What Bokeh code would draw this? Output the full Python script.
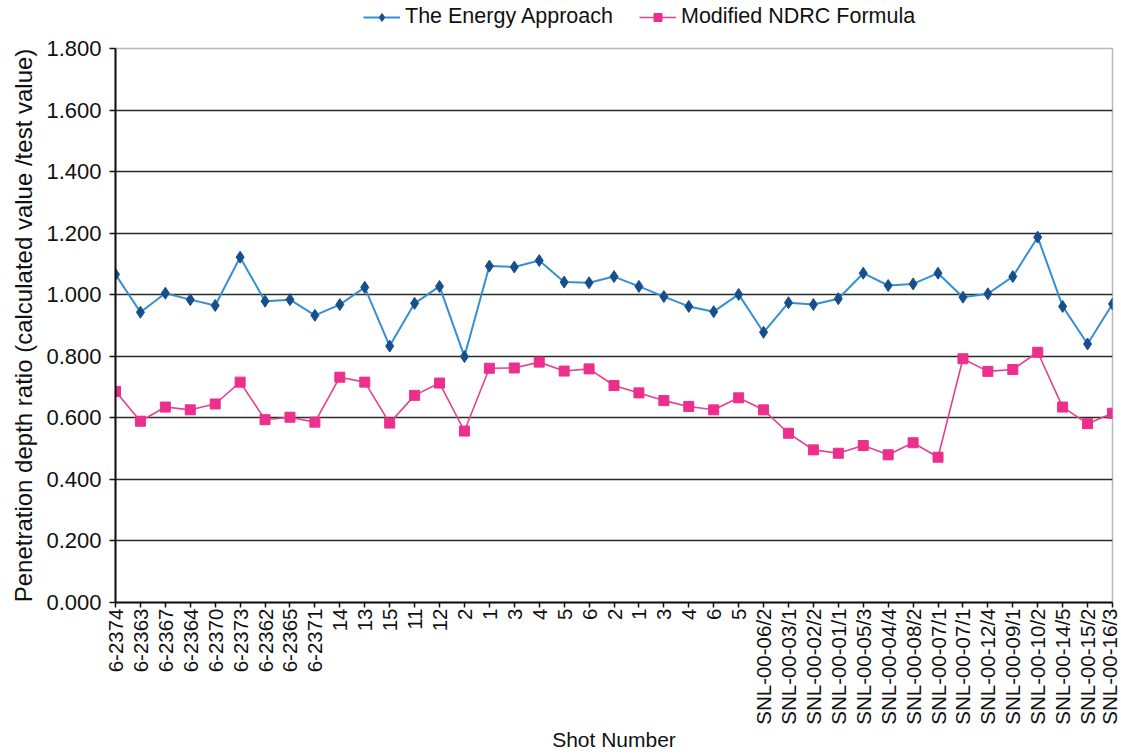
import math
from bokeh.plotting import figure
from bokeh.layouts import column
from bokeh.models import FixedTicker, NumeralTickFormatter, Legend, LegendItem, Range1d
from bokeh.embed import file_html
from bokeh.resources import INLINE

shots = ["6-2374", "6-2363", "6-2367", "6-2364", "6-2370", "6-2373", "6-2362", "6-2365", "6-2371",
         "14", "13", "15", "11", "12", "2", "1", "3", "4", "5", "6", "2", "1", "3", "4", "6", "5",
         "SNL-00-06/2", "SNL-00-03/1", "SNL-00-02/2", "SNL-00-01/1", "SNL-00-05/3", "SNL-00-04/4",
         "SNL-00-08/2", "SNL-00-07/1", "SNL-00-07/1", "SNL-00-12/4", "SNL-00-09/1", "SNL-00-10/2",
         "SNL-00-14/5", "SNL-00-15/2", "SNL-00-16/3"]

energy = [1.066, 0.943, 1.005, 0.984, 0.965, 1.122, 0.979, 0.984, 0.933, 0.968, 1.024, 0.833,
          0.972, 1.027, 0.799, 1.093, 1.090, 1.111, 1.041, 1.039, 1.059, 1.027, 0.994, 0.962,
          0.945, 1.001, 0.878, 0.974, 0.968, 0.987, 1.070, 1.030, 1.035, 1.070, 0.992, 1.003,
          1.059, 1.187, 0.962, 0.840, 0.970]

ndrc = [0.686, 0.589, 0.635, 0.626, 0.645, 0.716, 0.594, 0.602, 0.586, 0.732, 0.716, 0.583,
        0.673, 0.713, 0.557, 0.761, 0.762, 0.781, 0.752, 0.759, 0.705, 0.681, 0.656, 0.637,
        0.626, 0.665, 0.626, 0.550, 0.496, 0.485, 0.510, 0.480, 0.519, 0.472, 0.792, 0.751,
        0.757, 0.813, 0.635, 0.581, 0.615]

y_ticks = [0.0, 0.2, 0.4, 0.6, 0.8, 1.0, 1.2, 1.4, 1.6, 1.8]
series_names = ["The Energy Approach", "Modified NDRC Formula"]

x = list(range(len(shots)))
FONT = "Liberation Sans"

BLUE_LINE = "#3590d2"
BLUE_MARK = "#174f8c"
PINK_LINE = "#e4418f"
PINK_MARK = "#ec2f8c"

# ---------------- main chart ----------------
p = figure(width=1120, height=718, output_backend="svg", toolbar_location=None,
           x_range=Range1d(0, len(shots) - 1), y_range=Range1d(0, 1.8),
           min_border_left=115, min_border_right=8, min_border_top=12, min_border_bottom=152)

p.outline_line_color = "#b8b8b8"
p.outline_line_width = 1.5
p.background_fill_color = "white"

p.xgrid.visible = False
p.ygrid.ticker = FixedTicker(ticks=y_ticks[1:-1])
p.ygrid.grid_line_color = "#2a2a2a"
p.ygrid.grid_line_width = 1.5

p.yaxis.ticker = FixedTicker(ticks=y_ticks)
p.yaxis.formatter = NumeralTickFormatter(format="0.000")
p.yaxis.axis_label = "Penetration depth ratio (calculated value /test value)"
p.yaxis.major_label_text_font = FONT
p.yaxis.major_label_text_font_size = "22px"
p.yaxis.major_label_text_color = "#111111"
p.yaxis.axis_label_text_font = FONT
p.yaxis.axis_label_text_font_size = "24px"
p.yaxis.axis_label_text_font_style = "normal"
p.yaxis.axis_label_text_color = "#111111"
p.yaxis.axis_line_color = "#111111"
p.yaxis.axis_line_width = 2
p.yaxis.major_tick_line_color = "#111111"
p.yaxis.major_tick_line_width = 1.5
p.yaxis.major_tick_out = 6
p.yaxis.major_tick_in = 0
p.yaxis.minor_tick_line_color = None
p.yaxis.major_label_standoff = 8
p.yaxis.axis_label_standoff = 6

p.xaxis.ticker = FixedTicker(ticks=x)
p.xaxis.major_label_overrides = {i: s for i, s in enumerate(shots)}
p.xaxis.major_label_orientation = math.pi / 2
p.xaxis.axis_label = "Shot Number"
p.xaxis.major_label_text_font = FONT
p.xaxis.major_label_text_font_size = "20.5px"
p.xaxis.major_label_text_color = "#111111"
p.xaxis.axis_label_text_font = FONT
p.xaxis.axis_label_text_font_size = "21px"
p.xaxis.axis_label_text_font_style = "normal"
p.xaxis.axis_label_text_color = "#111111"
p.xaxis.axis_line_color = "#111111"
p.xaxis.axis_line_width = 2
p.xaxis.major_tick_line_color = "#111111"
p.xaxis.major_tick_line_width = 1.5
p.xaxis.major_tick_out = 5
p.xaxis.major_tick_in = 0
p.xaxis.minor_tick_line_color = None
p.xaxis.major_label_standoff = 1
p.xaxis.axis_label_standoff = 0

p.line(x, energy, line_color=BLUE_LINE, line_width=2)
p.scatter(x, energy, marker="diamond", size=12, fill_color=BLUE_MARK, line_color=BLUE_MARK)
p.line(x, ndrc, line_color=PINK_LINE, line_width=1.6)
p.scatter(x, ndrc, marker="square", size=10, fill_color=PINK_MARK, line_color=PINK_MARK)

# ---------------- legend strip (series drawn outside its visible range) ----------------
lg = figure(width=1120, height=36, output_backend="svg", toolbar_location=None,
            x_range=Range1d(1000, 1001), y_range=Range1d(1000, 1001),
            x_axis_location=None, y_axis_location=None,
            min_border_left=0, min_border_right=0, min_border_top=0, min_border_bottom=0)
lg.grid.visible = False
lg.outline_line_color = None

r1 = lg.line(x, energy, line_color=BLUE_LINE, line_width=2)
s1 = lg.scatter(x, energy, marker="diamond", size=10, fill_color=BLUE_MARK, line_color=BLUE_MARK)
r2 = lg.line(x, ndrc, line_color=PINK_LINE, line_width=1.6)
s2 = lg.scatter(x, ndrc, marker="square", size=9, fill_color=PINK_MARK, line_color=PINK_MARK)

legend = Legend(items=[LegendItem(label=series_names[0], renderers=[r1, s1]),
                       LegendItem(label=series_names[1], renderers=[r2, s2])],
                orientation="horizontal", location=(248, 7),
                label_text_font=FONT, label_text_font_size="21.5px", label_text_color="#111111",
                glyph_width=37, glyph_height=20, label_standoff=5, spacing=26,
                padding=0, margin=0, border_line_color=None, background_fill_alpha=0)
lg.add_layout(legend, "center")

layout = column(lg, p, spacing=0)
open("out.html", "w").write(file_html(layout, INLINE))
